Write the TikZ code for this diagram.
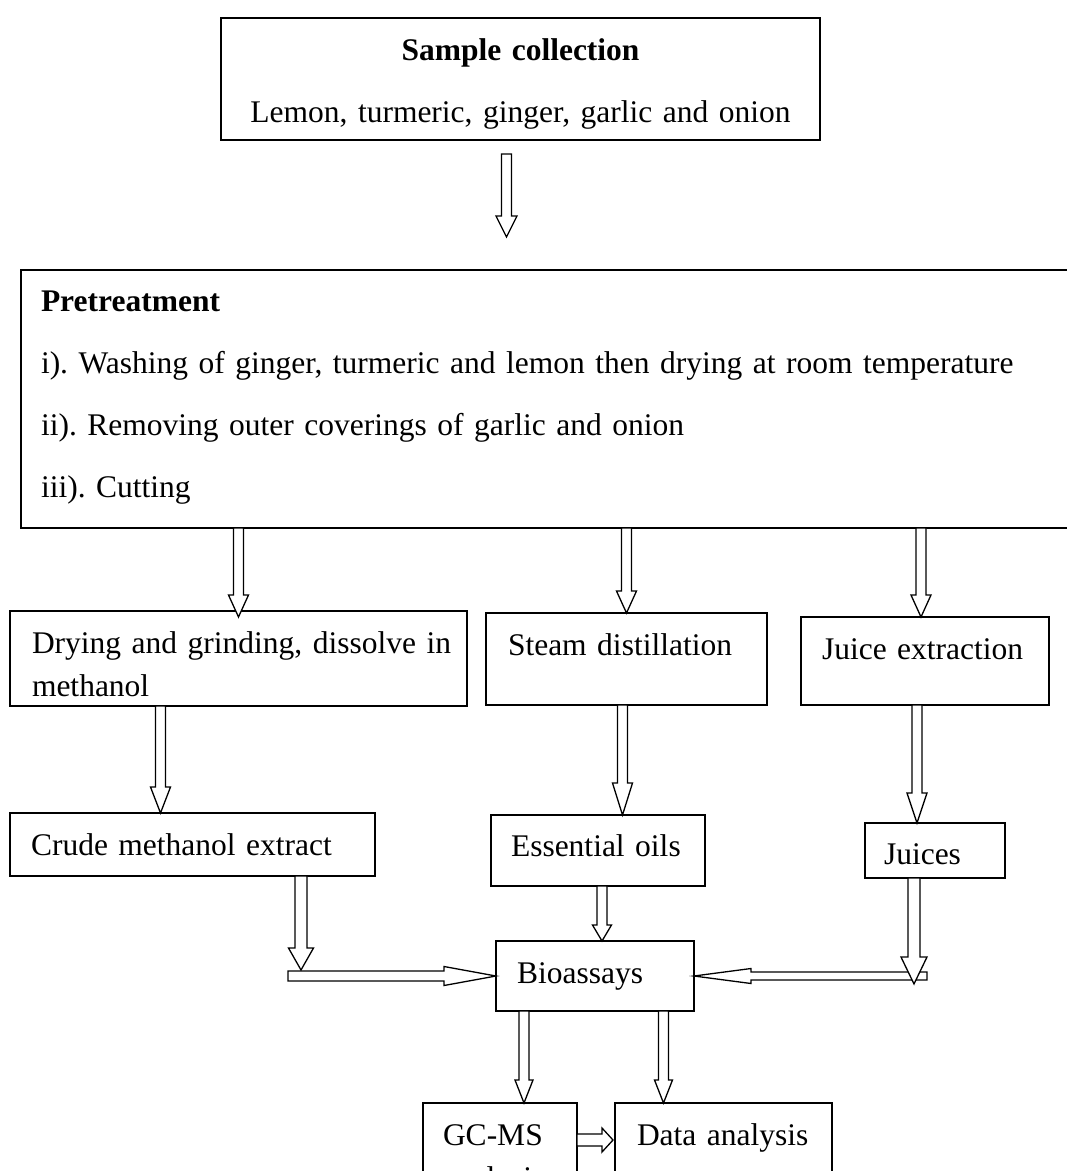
\documentclass[tikz,border=0pt]{standalone}
\usepackage{fontspec}
\setmainfont{Liberation Serif}
\usepackage{tikz}
\usetikzlibrary{calc}
\frenchspacing

% hollow block arrow: shaft half width, head half width, head length, from, to
\newcommand{\blockarrow}[5]{%
  \draw[hollow] let \p1=(#4), \p2=(#5), \p3=($(\p2)!#3pt!(\p1)$) in
    ($(\p1)!#1pt!90:(\p2)$) -- ($(\p3)!#1pt!90:(\p2)$) -- ($(\p3)!#2pt!90:(\p2)$)
    -- (\p2) -- ($(\p3)!#2pt!-90:(\p2)$) -- ($(\p3)!#1pt!-90:(\p2)$)
    -- ($(\p1)!#1pt!-90:(\p2)$) -- cycle;}

\begin{document}
\begin{tikzpicture}[x=1pt, y=-1pt,
        box/.style={draw, line width=1.8pt, anchor=north west, outer sep=0pt,
            inner ysep=0pt, align=left, font=\fontsize{31.5}{43}\selectfont},
        hollow/.style={draw, fill=white, line width=1.3pt, line join=miter}]
        \useasboundingbox (0,0) rectangle (1067,1171);
        \clip (0,0) rectangle (1067,1171);

        \node[box, align=center, inner xsep=0pt, text width=599pt, text height=42pt,
            text depth=80pt, font=\fontsize{31.5}{62}\selectfont] (sample) at (221,18)
            {\textbf{Sample collection}\\Lemon, turmeric, ginger, garlic and onion};
        \node[box, inner xsep=20pt, text width=1029pt, text height=41pt, text depth=217pt,
            font=\fontsize{31.5}{62}\selectfont] (pre) at (21,270)
            {\textbf{Pretreatment}\\
            i). Washing of ginger, turmeric and lemon then drying at room temperature\\
            ii). Removing outer coverings of garlic and onion\\
            iii). Cutting};

        \node[box, inner xsep=22pt, text width=413pt, text height=42pt, text depth=53pt] (dry) at (10,611)
            {\mbox{Drying and grinding, dissolve in}\\methanol};
        \node[box, inner xsep=22pt, text width=237pt, text height=42pt, text depth=50pt] (steam) at (486,613)
            {Steam distillation};
        \node[box, inner xsep=21pt, text width=206pt, text height=42pt, text depth=46pt] (juice) at (801,617)
            {\mbox{Juice extraction}};

        \node[box, inner xsep=21pt, text width=323pt, text height=42pt, text depth=21pt] (crude) at (10,813)
            {Crude methanol extract};
        \node[box, inner xsep=20pt, text width=174pt, text height=41pt, text depth=30pt] (ess) at (491,815)
            {\mbox{Essential oils}};
        \node[box, inner xsep=19pt, text width=102pt, text height=41pt, text depth=14pt] (juices) at (865,823)
            {Juices};

        \node[box, inner xsep=21pt, text width=156pt, text height=42pt, text depth=28pt] (bio) at (496,941)
            {Bioassays};
        \node[box, inner xsep=20pt, text width=114pt, text height=42pt, text depth=85pt] (gcms) at (423,1103)
            {GC-MS\\analysis};
        \node[box, inner xsep=22pt, text width=173pt, text height=42pt, text depth=85pt] (data) at (615,1103)
            {\mbox{Data analysis}};

        \coordinate (lcorner) at ($(bio.west)+(-195,0)$);
        \coordinate (rcorner) at ($(bio.east)+(220,0)$);

        \blockarrow{5}{10.5}{21}{$(sample.south)+(-14,14)$}{$(pre.north -| sample.south)+(-14,-33)$}
        \blockarrow{5}{10}{22}{pre.south -| dry.north}{$(dry.north)+(0,6)$}
        \blockarrow{5}{10}{22}{pre.south -| steam.north}{steam.north}
        \blockarrow{5}{10}{22}{$(pre.south -| juice.north)+(-4,0)$}{$(juice.north)+(-4,0)$}

        \blockarrow{5}{10}{26}{$(dry.south -| crude.north)+(-32,0)$}{$(crude.north)+(-32,0)$}
        \blockarrow{5}{10}{32}{$(steam.south)+(-4,0)$}{$(steam.south |- ess.north)+(-4,0)$}
        \blockarrow{5}{10}{30}{$(juice.south)+(-8,0)$}{$(juice.south |- juices.north)+(-8,0)$}

        \blockarrow{6}{12.5}{22}{crude.south -| lcorner}{$(lcorner)+(0,-6)$}
        \blockarrow{5}{9.5}{52}{$(lcorner)+(-13,0)$}{bio.west}
        \blockarrow{5}{9.5}{16}{$(ess.south)+(4,0)$}{$(bio.north -| ess.south)+(4,0)$}
        \blockarrow{4}{7.5}{57}{$(rcorner)+(13,0)$}{bio.east}
        \blockarrow{6}{13}{27}{juices.south -| rcorner}{$(rcorner)+(0,8)$}

        \blockarrow{5}{9}{23}{$(bio.south -| gcms.north)+(24,0)$}{$(gcms.north)+(24,0)$}
        \blockarrow{5}{9}{23}{$(bio.south -| data.north)+(-60,0)$}{$(data.north)+(-60,0)$}
        \blockarrow{6}{12}{11}{$(gcms.north east)+(0,37)$}{$(data.north west)+(-2,37)$}
    \end{tikzpicture}
\end{document}
